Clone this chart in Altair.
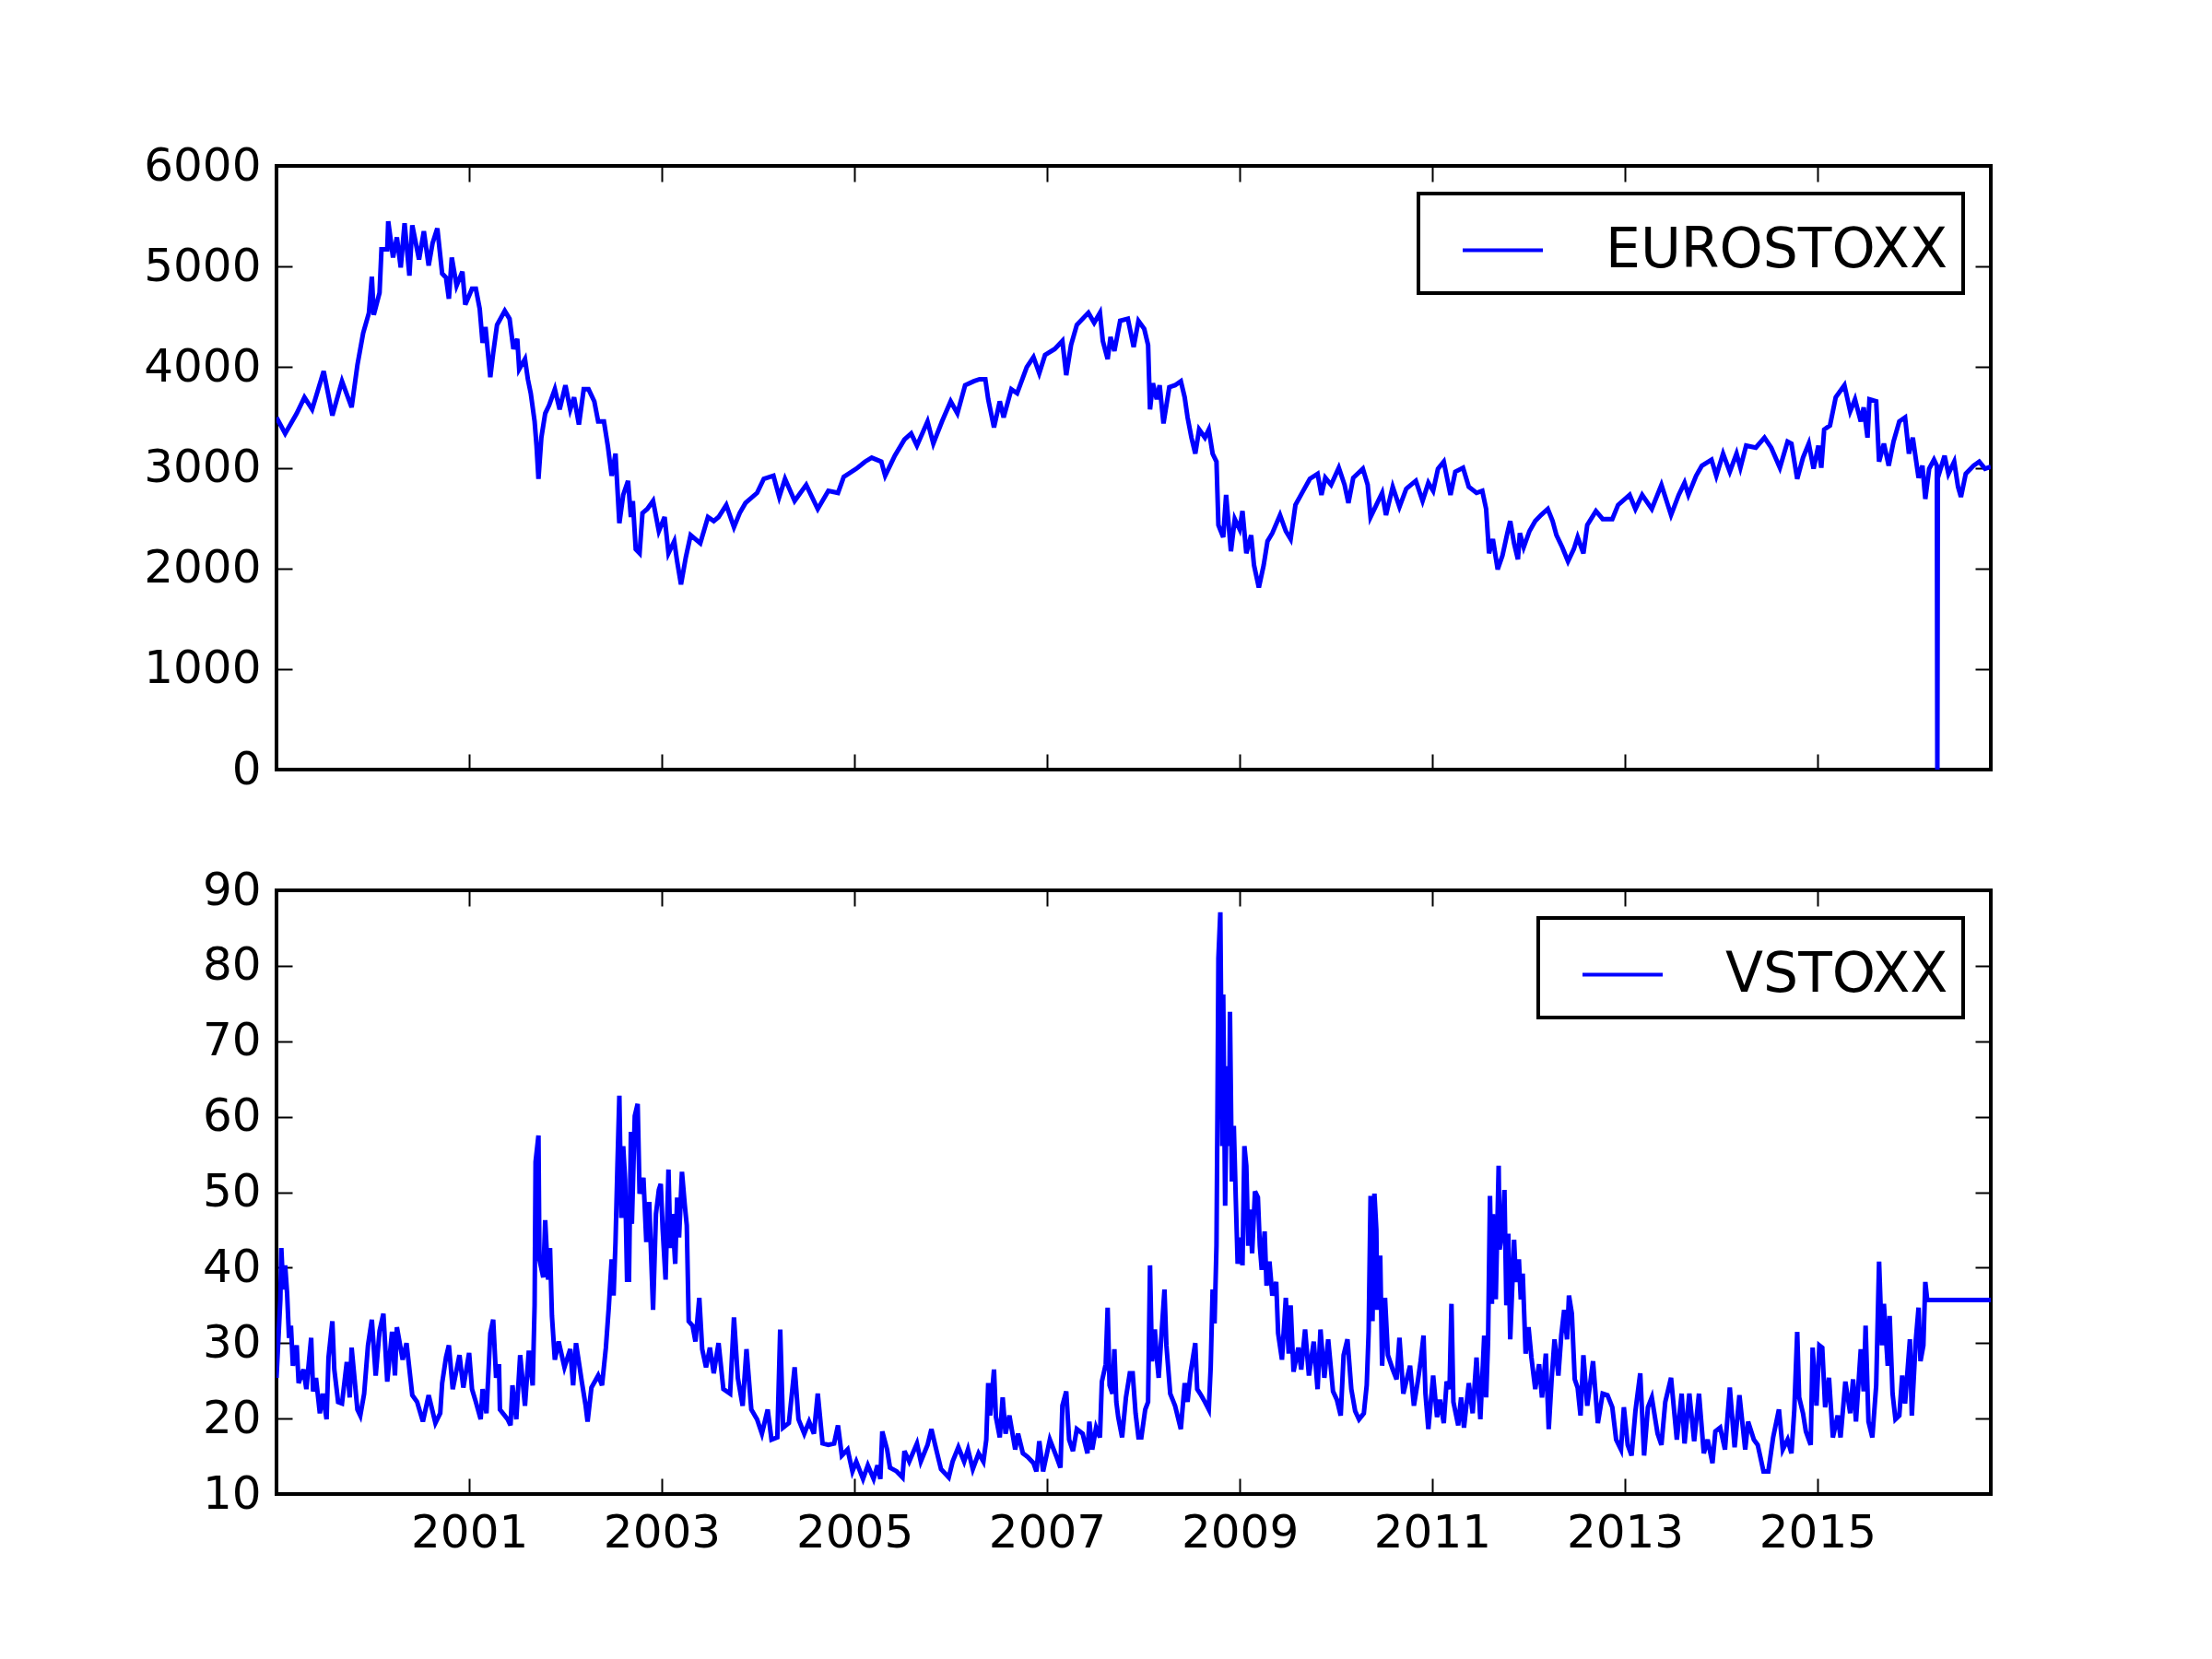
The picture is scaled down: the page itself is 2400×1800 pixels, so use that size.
import pandas as pd
import altair as alt

# EUROSTOXX index level (decimal year, value)
euro_year = [
    1999.00, 1999.09, 1999.21, 1999.29, 1999.37, 1999.49, 1999.58, 1999.68, 1999.78, 1999.84,
    1999.90, 1999.96, 1999.99, 2000.01, 2000.07, 2000.09, 2000.15, 2000.16, 2000.21, 2000.25,
    2000.29, 2000.33, 2000.38, 2000.41, 2000.48, 2000.53, 2000.58, 2000.62, 2000.67, 2000.72,
    2000.76, 2000.79, 2000.82, 2000.87, 2000.93, 2000.96, 2001.03, 2001.07, 2001.11, 2001.14,
    2001.17, 2001.22, 2001.25, 2001.29, 2001.37, 2001.42, 2001.46, 2001.50, 2001.52, 2001.58,
    2001.61, 2001.64, 2001.68, 2001.70, 2001.72, 2001.75, 2001.79, 2001.83, 2001.89, 2001.94,
    2002.00, 2002.05, 2002.09, 2002.14, 2002.19, 2002.24, 2002.30, 2002.34, 2002.40, 2002.44,
    2002.48, 2002.52, 2002.56, 2002.60, 2002.65, 2002.68, 2002.70, 2002.73, 2002.77, 2002.80,
    2002.85, 2002.91, 2002.97, 2003.03, 2003.07, 2003.13, 2003.16, 2003.20, 2003.25, 2003.30,
    2003.40, 2003.48, 2003.54, 2003.59, 2003.67, 2003.75, 2003.81, 2003.87, 2003.99, 2004.06,
    2004.16, 2004.22, 2004.28, 2004.38, 2004.50, 2004.62, 2004.73, 2004.83, 2004.89, 2005.02,
    2005.11, 2005.18, 2005.28, 2005.32, 2005.42, 2005.52, 2005.59, 2005.65, 2005.76, 2005.82,
    2005.91, 2006.00, 2006.07, 2006.15, 2006.24, 2006.30, 2006.36, 2006.39, 2006.45, 2006.51,
    2006.55, 2006.63, 2006.69, 2006.79, 2006.86, 2006.92, 2006.98, 2007.08, 2007.16, 2007.20,
    2007.25, 2007.31, 2007.43, 2007.49, 2007.55, 2007.58, 2007.63, 2007.66, 2007.70, 2007.76,
    2007.84, 2007.90, 2007.95, 2008.01, 2008.05, 2008.07, 2008.10, 2008.14, 2008.17, 2008.21,
    2008.27, 2008.33, 2008.39, 2008.43, 2008.46, 2008.50, 2008.54, 2008.58, 2008.64, 2008.68,
    2008.72, 2008.76, 2008.78, 2008.83, 2008.86, 2008.91, 2008.95, 2009.00, 2009.03, 2009.07,
    2009.12, 2009.15, 2009.20, 2009.25, 2009.29, 2009.34, 2009.42, 2009.48, 2009.53, 2009.58,
    2009.66, 2009.73, 2009.81, 2009.85, 2009.89, 2009.95, 2010.03, 2010.09, 2010.13, 2010.18,
    2010.28, 2010.33, 2010.36, 2010.42, 2010.48, 2010.52, 2010.59, 2010.66, 2010.73, 2010.83,
    2010.90, 2010.96, 2011.01, 2011.06, 2011.12, 2011.19, 2011.24, 2011.32, 2011.38, 2011.46,
    2011.52, 2011.56, 2011.59, 2011.63, 2011.68, 2011.73, 2011.78, 2011.81, 2011.85, 2011.89,
    2011.91, 2011.95, 2012.01, 2012.07, 2012.13, 2012.20, 2012.25, 2012.29, 2012.35, 2012.41,
    2012.47, 2012.51, 2012.57, 2012.61, 2012.70, 2012.77, 2012.87, 2012.93, 2013.05, 2013.11,
    2013.18, 2013.28, 2013.38, 2013.48, 2013.56, 2013.62, 2013.66, 2013.74, 2013.80, 2013.90,
    2013.95, 2014.02, 2014.09, 2014.16, 2014.20, 2014.26, 2014.36, 2014.45, 2014.52, 2014.61,
    2014.69, 2014.73, 2014.79, 2014.85, 2014.91, 2014.96, 2015.01, 2015.04, 2015.07, 2015.13,
    2015.19, 2015.28, 2015.34, 2015.39, 2015.45, 2015.48, 2015.52, 2015.54, 2015.61, 2015.64,
    2015.69, 2015.74, 2015.79, 2015.85, 2015.91, 2015.95, 2015.99, 2016.05, 2016.09, 2016.12,
    2016.16, 2016.21, 2016.24, 2016.245, 2016.25, 2016.32, 2016.36, 2016.42, 2016.46, 2016.49,
    2016.54, 2016.62, 2016.68, 2016.74, 2016.80,
]
euro_value = [
    3500, 3340, 3540, 3700, 3580, 3960, 3520, 3860, 3600, 4020,
    4340, 4540, 4900, 4520, 4740, 5170, 5170, 5450, 5090, 5290,
    4990, 5430, 4910, 5410, 5070, 5350, 5010, 5230, 5380, 4930,
    4890, 4680, 5090, 4810, 4950, 4620, 4780, 4780, 4580, 4240,
    4400, 3900, 4140, 4420, 4560, 4480, 4180, 4280, 3980, 4080,
    3880, 3740, 3460, 3220, 2890, 3300, 3540, 3620, 3780, 3580,
    3820, 3580, 3700, 3430, 3780, 3780, 3660, 3460, 3460, 3220,
    2920, 3140, 2450, 2730, 2870, 2510, 2670, 2190, 2150, 2550,
    2590, 2670, 2370, 2510, 2150, 2270, 2070, 1840, 2110, 2330,
    2250, 2510, 2470, 2510, 2630, 2410, 2550, 2650, 2750, 2890,
    2920, 2710, 2890, 2670, 2830, 2590, 2770, 2750, 2910, 2990,
    3060, 3100, 3060, 2920, 3120, 3280, 3340, 3220, 3460, 3240,
    3460, 3660, 3540, 3820, 3860, 3880, 3880, 3680, 3400, 3660,
    3500, 3780, 3740, 4000, 4100, 3940, 4120, 4180, 4260, 3920,
    4220, 4420, 4540, 4440, 4540, 4260, 4080, 4300, 4160, 4460,
    4480, 4200, 4460, 4380, 4220, 3580, 3840, 3680, 3820, 3440,
    3800, 3820, 3860, 3700, 3500, 3300, 3140, 3380, 3300, 3380,
    3140, 3060, 2430, 2310, 2730, 2170, 2490, 2390, 2570, 2150,
    2330, 2030, 1810, 2030, 2270, 2350, 2530, 2370, 2290, 2630,
    2770, 2890, 2940, 2730, 2900, 2830, 3000, 2830, 2650, 2900,
    2990, 2830, 2510, 2630, 2750, 2530, 2810, 2610, 2790, 2870,
    2670, 2850, 2770, 2990, 3060, 2730, 2960, 3000, 2810, 2750,
    2770, 2590, 2150, 2290, 1990, 2130, 2350, 2470, 2250, 2090,
    2350, 2210, 2370, 2470, 2530, 2590, 2470, 2330, 2210, 2070,
    2190, 2310, 2150, 2430, 2570, 2490, 2490, 2630, 2730, 2590,
    2730, 2590, 2830, 2530, 2730, 2850, 2730, 2920, 3020, 3080,
    2920, 3140, 2960, 3140, 3000, 3220, 3200, 3300, 3200, 3000,
    3260, 3240, 2890, 3100, 3240, 2990, 3220, 3000, 3380, 3420,
    3700, 3820, 3560, 3680, 3460, 3600, 3300, 3680, 3660, 3060,
    3240, 3020, 3260, 3460, 3500, 3140, 3300, 2900, 3020, 2690,
    2990, 3080, 3020, 0, 2900, 3120, 2940, 3060, 2810, 2710,
    2940, 3020, 3060, 2990, 3010,
]

# VSTOXX volatility index (decimal year, value)
vstoxx_year = [
    1999.00, 1999.04, 1999.05, 1999.07, 1999.09, 1999.11, 1999.13, 1999.15, 1999.17, 1999.21,
    1999.23, 1999.28, 1999.31, 1999.36, 1999.38, 1999.41, 1999.45, 1999.48, 1999.52, 1999.54,
    1999.58, 1999.60, 1999.64, 1999.68, 1999.73, 1999.76, 1999.78, 1999.84, 1999.87, 1999.91,
    1999.95, 1999.99, 2000.03, 2000.07, 2000.11, 2000.15, 2000.20, 2000.23, 2000.25, 2000.31,
    2000.35, 2000.41, 2000.46, 2000.52, 2000.58, 2000.65, 2000.70, 2000.72, 2000.76, 2000.79,
    2000.83, 2000.90, 2000.94, 2001.00, 2001.03, 2001.07, 2001.12, 2001.14, 2001.18, 2001.22,
    2001.25, 2001.28, 2001.31, 2001.32, 2001.40, 2001.43, 2001.45, 2001.49, 2001.53, 2001.58,
    2001.62, 2001.66, 2001.68, 2001.69, 2001.72, 2001.73, 2001.77, 2001.79, 2001.82, 2001.84,
    2001.86, 2001.89, 2001.93, 2001.99, 2002.05, 2002.08, 2002.11, 2002.17, 2002.21, 2002.23,
    2002.27, 2002.34, 2002.38, 2002.42, 2002.45, 2002.48, 2002.50, 2002.52, 2002.54, 2002.56,
    2002.58, 2002.60, 2002.62, 2002.64, 2002.66, 2002.68, 2002.69, 2002.72, 2002.75, 2002.77,
    2002.81, 2002.84, 2002.87, 2002.91, 2002.94, 2002.97, 2002.99, 2003.01, 2003.04, 2003.07,
    2003.09, 2003.11, 2003.14, 2003.16, 2003.18, 2003.21, 2003.24, 2003.26, 2003.28, 2003.32,
    2003.35, 2003.39, 2003.42, 2003.46, 2003.50, 2003.54, 2003.59, 2003.64, 2003.71, 2003.75,
    2003.79, 2003.84, 2003.88, 2003.93, 2003.99, 2004.04, 2004.10, 2004.14, 2004.20, 2004.23,
    2004.26, 2004.32, 2004.38, 2004.42, 2004.48, 2004.53, 2004.58, 2004.62, 2004.67, 2004.73,
    2004.79, 2004.83, 2004.87, 2004.93, 2004.98, 2005.02, 2005.09, 2005.14, 2005.20, 2005.24,
    2005.27, 2005.29, 2005.34, 2005.37, 2005.44, 2005.50, 2005.52, 2005.57, 2005.65, 2005.69,
    2005.76, 2005.80, 2005.85, 2005.90, 2005.98, 2006.02, 2006.08, 2006.14, 2006.18, 2006.23,
    2006.29, 2006.34, 2006.37, 2006.39, 2006.41, 2006.45, 2006.47, 2006.51, 2006.54, 2006.57,
    2006.61, 2006.67, 2006.70, 2006.75, 2006.80, 2006.86, 2006.89, 2006.92, 2006.96, 2007.03,
    2007.10, 2007.14, 2007.16, 2007.20, 2007.23, 2007.27, 2007.31, 2007.37, 2007.42, 2007.44,
    2007.47, 2007.51, 2007.55, 2007.57, 2007.61, 2007.63, 2007.65, 2007.68, 2007.70, 2007.72,
    2007.74, 2007.78, 2007.82, 2007.86, 2007.89, 2007.92, 2007.95, 2007.98, 2008.02, 2008.05,
    2008.07, 2008.09, 2008.12, 2008.14, 2008.16, 2008.19, 2008.22, 2008.24, 2008.28, 2008.33,
    2008.39, 2008.43, 2008.46, 2008.49, 2008.52, 2008.54, 2008.56, 2008.60, 2008.64, 2008.68,
    2008.70, 2008.72, 2008.74, 2008.76, 2008.77, 2008.78, 2008.80, 2008.82, 2008.83, 2008.85,
    2008.87, 2008.89, 2008.90, 2008.92, 2008.94, 2008.96, 2008.98, 2009.01, 2009.03, 2009.05,
    2009.07, 2009.09, 2009.11, 2009.13, 2009.16, 2009.19, 2009.21, 2009.23, 2009.26, 2009.28,
    2009.31, 2009.34, 2009.38, 2009.40, 2009.44, 2009.48, 2009.51, 2009.53, 2009.56, 2009.61,
    2009.64, 2009.68, 2009.72, 2009.77, 2009.81, 2009.84, 2009.88, 2009.92, 2009.97, 2010.01,
    2010.05, 2010.08, 2010.12, 2010.16, 2010.20, 2010.24, 2010.29, 2010.32, 2010.34, 2010.36,
    2010.38, 2010.40, 2010.42, 2010.43, 2010.46, 2010.48, 2010.51, 2010.54, 2010.59, 2010.63,
    2010.66, 2010.70, 2010.77, 2010.81, 2010.85, 2010.88, 2010.91, 2010.93, 2010.96, 2011.01,
    2011.05, 2011.08, 2011.12, 2011.15, 2011.18, 2011.20, 2011.22, 2011.27, 2011.30, 2011.33,
    2011.38, 2011.42, 2011.46, 2011.50, 2011.54, 2011.56, 2011.58, 2011.60, 2011.62, 2011.63,
    2011.66, 2011.69, 2011.70, 2011.73, 2011.75, 2011.77, 2011.79, 2011.81, 2011.85, 2011.87,
    2011.90, 2011.92, 2011.94, 2011.97, 2012.00, 2012.03, 2012.07, 2012.11, 2012.14, 2012.18,
    2012.21, 2012.24, 2012.27, 2012.31, 2012.34, 2012.37, 2012.40, 2012.42, 2012.45, 2012.48,
    2012.51, 2012.54, 2012.57, 2012.61, 2012.67, 2012.72, 2012.77, 2012.82, 2012.87, 2012.91,
    2012.96, 2012.99, 2013.03, 2013.07, 2013.11, 2013.16, 2013.20, 2013.24, 2013.28, 2013.34,
    2013.38, 2013.42, 2013.48, 2013.54, 2013.59, 2013.62, 2013.67, 2013.72, 2013.77, 2013.82,
    2013.86, 2013.91, 2013.94, 2013.99, 2014.04, 2014.09, 2014.14, 2014.19, 2014.25, 2014.28,
    2014.34, 2014.38, 2014.44, 2014.49, 2014.54, 2014.60, 2014.64, 2014.69, 2014.73, 2014.76,
    2014.79, 2014.81, 2014.85, 2014.88, 2014.93, 2014.95, 2014.99, 2015.02, 2015.05, 2015.08,
    2015.12, 2015.16, 2015.21, 2015.24, 2015.29, 2015.34, 2015.37, 2015.40, 2015.45, 2015.48,
    2015.50, 2015.53, 2015.57, 2015.61, 2015.64, 2015.67, 2015.69, 2015.73, 2015.75, 2015.78,
    2015.81, 2015.85, 2015.88, 2015.91, 2015.96, 2015.98, 2016.02, 2016.05, 2016.07, 2016.10,
    2016.12, 2016.14, 2016.80,
]
vstoxx_value = [
    25.4, 35.8, 42.6, 37.1, 40.3, 36.6, 30.7, 32.3, 27.0, 29.7,
    24.7, 26.5, 23.9, 30.7, 23.6, 25.4, 20.7, 23.3, 19.9, 28.1,
    32.9, 26.5, 22.2, 22.0, 27.5, 22.8, 29.4, 21.2, 20.4, 23.3,
    29.7, 33.1, 25.7, 31.6, 33.9, 24.9, 31.5, 25.7, 32.1, 27.8,
    30.0, 23.1, 22.2, 19.6, 23.1, 19.4, 20.7, 24.7, 28.1, 29.7,
    23.9, 28.4, 24.1, 28.7, 23.9, 22.2, 19.9, 23.9, 20.7, 31.3,
    33.1, 25.4, 27.2, 21.2, 19.9, 19.1, 24.4, 19.9, 28.4, 21.7,
    29.0, 24.4, 35.0, 54.0, 57.5, 41.1, 38.7, 46.3, 38.4, 42.6,
    33.6, 27.8, 30.2, 26.8, 29.2, 24.4, 30.0, 24.9, 21.7, 19.6,
    24.1, 25.7, 24.4, 29.4, 34.7, 41.1, 36.3, 43.4, 53.5, 62.8,
    46.6, 56.1, 51.6, 38.4, 38.4, 58.0, 45.8, 60.1, 61.7, 49.8,
    51.9, 43.4, 48.7, 34.4, 47.1, 50.3, 51.1, 45.0, 38.4, 53.0,
    42.6, 47.1, 40.5, 49.3, 44.0, 52.7, 48.2, 45.6, 32.9, 32.3,
    30.2, 36.0, 29.2, 26.8, 29.4, 26.0, 30.0, 23.9, 23.3, 33.4,
    25.4, 21.7, 29.2, 21.2, 19.9, 18.0, 21.2, 17.2, 17.5, 31.8,
    18.8, 19.4, 26.8, 19.9, 18.0, 19.6, 18.0, 23.3, 16.7, 16.5,
    16.7, 19.1, 15.1, 15.9, 13.0, 14.3, 12.0, 13.8, 12.0, 13.8,
    12.0, 18.3, 15.9, 13.5, 13.0, 12.2, 15.7, 14.3, 16.7, 14.3,
    16.5, 18.6, 15.9, 13.3, 12.2, 14.3, 16.2, 14.3, 15.9, 13.3,
    15.4, 14.3, 17.2, 24.7, 20.4, 26.5, 20.2, 17.5, 22.8, 18.0,
    20.4, 15.9, 18.0, 15.4, 14.9, 14.1, 13.0, 17.0, 13.0, 17.2,
    14.9, 13.5, 21.7, 23.6, 17.2, 15.7, 18.6, 18.0, 15.4, 19.6,
    15.9, 18.8, 17.5, 24.9, 27.2, 34.7, 24.4, 23.3, 29.2, 22.2,
    20.2, 17.5, 22.8, 26.0, 26.0, 20.7, 17.5, 17.5, 21.2, 22.2,
    40.3, 27.6, 31.8, 28.1, 25.4, 31.3, 37.1, 29.7, 23.3, 21.7,
    18.6, 24.7, 22.2, 26.0, 28.4, 30.0, 23.9, 23.1, 22.2, 21.2,
    26.8, 37.1, 32.6, 42.9, 60.4, 81.0, 87.1, 56.1, 76.2, 48.2,
    66.7, 56.1, 73.9, 51.4, 58.8, 49.3, 40.5, 44.0, 40.3, 56.1,
    53.5, 42.9, 47.7, 41.9, 50.1, 49.3, 42.9, 39.7, 44.8, 37.6,
    40.8, 36.3, 38.1, 31.3, 27.8, 36.0, 28.6, 35.0, 26.2, 29.4,
    26.5, 31.8, 25.7, 30.2, 23.9, 31.8, 25.4, 30.5, 23.6, 22.5,
    20.4, 28.4, 30.5, 23.9, 21.0, 19.9, 20.7, 24.4, 31.5, 49.5,
    32.9, 49.8, 45.0, 34.4, 41.6, 27.0, 36.0, 28.4, 26.5, 25.2,
    30.7, 23.3, 27.0, 21.7, 24.9, 27.6, 31.0, 23.3, 18.6, 25.7,
    20.2, 22.5, 19.4, 24.9, 23.9, 35.2, 22.2, 19.1, 22.8, 18.8,
    24.7, 20.7, 28.1, 19.9, 31.0, 22.8, 30.2, 49.5, 35.2, 47.1,
    35.8, 53.5, 42.4, 45.0, 50.3, 35.0, 44.5, 30.5, 43.7, 38.1,
    41.1, 35.8, 39.2, 28.6, 32.1, 28.1, 23.9, 27.2, 22.8, 28.6,
    18.6, 25.2, 30.5, 25.7, 31.0, 34.4, 30.5, 36.3, 33.9, 25.2,
    24.1, 20.4, 28.4, 21.7, 27.6, 19.4, 23.3, 23.1, 21.5, 17.2,
    15.9, 21.5, 16.5, 15.1, 21.0, 26.0, 15.1, 21.5, 22.8, 18.0,
    16.5, 22.2, 25.4, 17.2, 23.3, 16.7, 23.3, 17.0, 23.3, 15.4,
    17.2, 14.1, 18.3, 18.8, 15.9, 24.1, 16.2, 23.1, 15.9, 19.6,
    17.2, 16.5, 13.0, 13.0, 17.5, 21.2, 15.9, 17.2, 15.4, 21.2,
    31.5, 22.8, 20.7, 18.3, 16.5, 29.4, 21.7, 29.7, 29.4, 21.5,
    25.4, 17.5, 20.4, 17.5, 24.9, 20.7, 25.2, 19.6, 29.2, 23.6,
    32.3, 19.6, 17.5, 24.4, 40.8, 29.7, 35.2, 27.0, 33.6, 23.3,
    19.9, 20.4, 25.7, 22.0, 30.5, 20.4, 30.2, 34.7, 27.6, 29.7,
    38.1, 35.7, 35.7,
]

euro_ticks = [0, 1000, 2000, 3000, 4000, 5000, 6000]
vstoxx_ticks = [10, 20, 30, 40, 50, 60, 70, 80, 90]
year_ticks = [2001, 2003, 2005, 2007, 2009, 2011, 2013, 2015]

BLUE = "#0000ff"
TICK = 17


def to_date(t):
    stamp = pd.Timestamp("1999-01-01") + pd.to_timedelta((t - 1999) * 365.25, unit="D")
    return stamp.strftime("%Y-%m-%dT%H:%M:%SZ")


def panel(years, values, name, y_ticks, x_labels):
    df = pd.DataFrame({"date": [to_date(t) for t in years], "value": values, "series": name})
    x_vals = [alt.DateTime(year=y, month=1, date=1, utc=True) for y in year_ticks]

    # ticks point inwards on all four sides, like the matplotlib classic style
    bottom = alt.Axis(values=x_vals, format="%Y", formatType="utc", labels=x_labels,
                      orient="bottom", offset=-TICK, tickSize=TICK, domain=False,
                      title=None, labelPadding=TICK, labelFlush=False)
    top = alt.Axis(values=x_vals, labels=False, orient="top", offset=-TICK,
                   tickSize=TICK, domain=False, title=None)
    left = alt.Axis(values=y_ticks, format="d", orient="left", offset=-TICK, tickSize=TICK,
                    domain=False, title=None, labelPadding=TICK)
    right = alt.Axis(values=y_ticks, labels=False, orient="right", offset=-TICK,
                     tickSize=TICK, domain=False, title=None)

    line = alt.Chart(df).mark_line(strokeWidth=5, clip=True).encode(
        x=alt.X("date:T", scale=alt.Scale(type="utc", nice=False), axis=bottom),
        y=alt.Y("value:Q", scale=alt.Scale(domain=[y_ticks[0], y_ticks[-1]], nice=False, zero=False),
                axis=left),
        color=alt.Color("series:N", scale=alt.Scale(range=[BLUE]),
                        legend=alt.Legend(title=None, orient="top-right", offset=30)),
    )
    mirror = alt.Chart(df).mark_line(opacity=0).encode(
        x=alt.X("date:T", axis=top),
        y=alt.Y("value:Q", axis=right),
    )
    return alt.layer(line, mirror).resolve_axis(x="independent", y="independent").properties(
        width=1860, height=655
    )


top_panel = panel(euro_year, euro_value, "EUROSTOXX", euro_ticks, False)
bottom_panel = panel(vstoxx_year, vstoxx_value, "VSTOXX", vstoxx_ticks, True)

chart = alt.vconcat(top_panel, bottom_panel, spacing=131, bounds="flush").resolve_scale(
    color="independent"
).properties(
    padding={"left": 145, "top": 145, "right": 30, "bottom": 40},
    background="white",
).configure_view(
    stroke="black", strokeWidth=4
).configure_axis(
    grid=False, labelFont="DejaVu Sans", labelFontSize=50, labelColor="black",
    tickColor="black", tickWidth=2,
).configure_legend(
    padding=16, strokeColor="black", strokeWidth=4, fillColor="white", cornerRadius=0,
    labelFont="DejaVu Sans", labelFontSize=60, labelColor="black", labelLimit=0,
    symbolType="stroke", symbolSize=7569, symbolStrokeWidth=4, labelOffset=66, symbolOffset=30,
)

chart.save("out.html", embed_options={"renderer": "svg", "actions": False})
